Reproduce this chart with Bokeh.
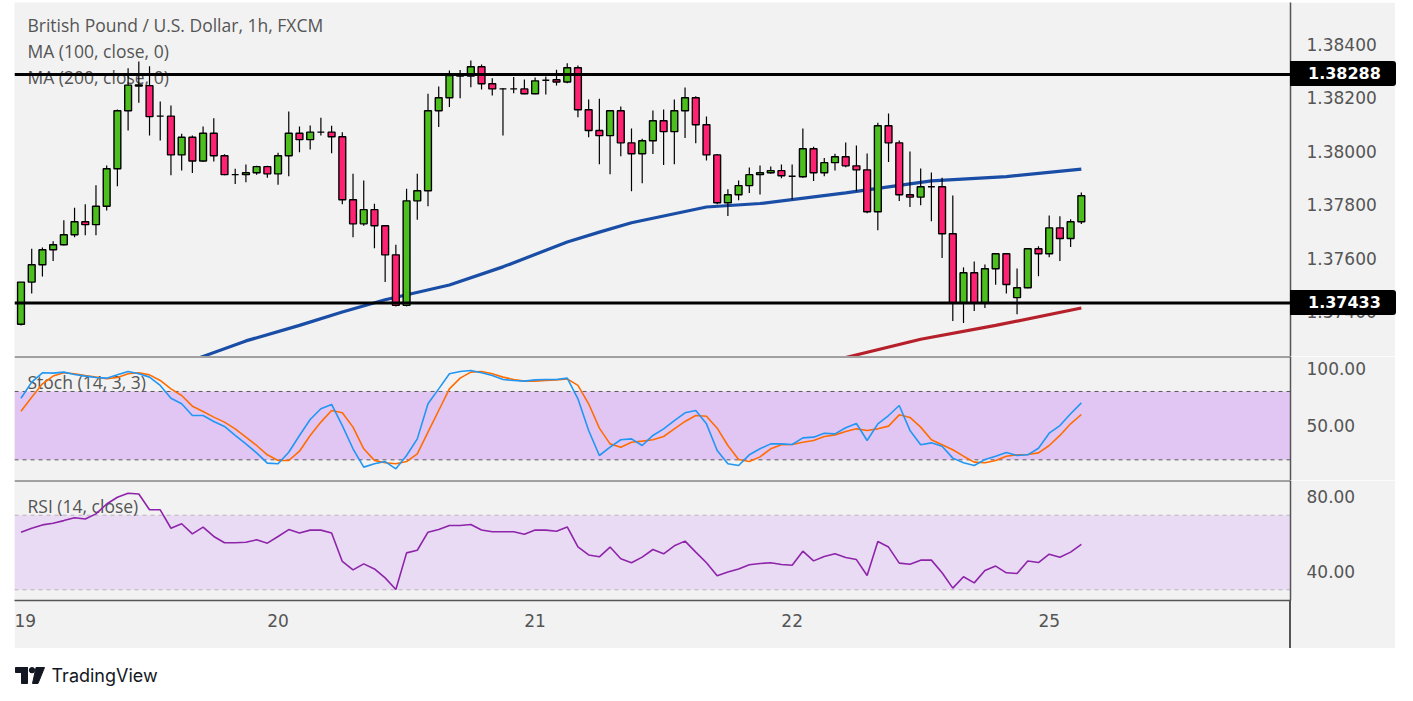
from bokeh.plotting import figure
from bokeh.layouts import column
from bokeh.models import (Range1d, FixedTicker, Span, BoxAnnotation, Label, Div,
                          ColumnDataSource, NumeralTickFormatter)
from bokeh.embed import file_html
from bokeh.resources import INLINE

# ---------------- data ----------------
hours = list(range(100))  # hourly bars starting 19th 00:00
opens = [1.37353, 1.37511, 1.37576, 1.37632, 1.37651, 1.37688, 1.37737, 1.37726, 1.37795, 1.37935,
         1.38152, 1.38245, 1.38246, 1.38132, 1.38132, 1.37987, 1.38053, 1.37964, 1.38068, 1.37984,
         1.37913, 1.37913, 1.37920, 1.37943, 1.37916, 1.37984, 1.38068, 1.38044, 1.38072, 1.38072,
         1.38055, 1.37819, 1.37729, 1.37782, 1.37722, 1.37613, 1.37424, 1.37815, 1.37853, 1.38152,
         1.38201, 1.38284, 1.38282, 1.38317, 1.38253, 1.38234, 1.38234, 1.38234, 1.38216, 1.38266,
         1.38268, 1.38260, 1.38313, 1.38156, 1.38078, 1.38059, 1.38152, 1.38032, 1.37991, 1.38040,
         1.38115, 1.38074, 1.38152, 1.38201, 1.38100, 1.37987, 1.37808, 1.37838, 1.37872, 1.37913,
         1.37920, 1.37928, 1.37907, 1.37905, 1.38010, 1.37920, 1.37958, 1.37980, 1.37946, 1.37931,
         1.37774, 1.38096, 1.38032, 1.37838, 1.37829, 1.37868, 1.37868, 1.37692, 1.37434, 1.37546,
         1.37434, 1.37561, 1.37617, 1.37453, 1.37490, 1.37636, 1.37617, 1.37714, 1.37674, 1.37737]
highs = [1.37511, 1.37636, 1.37640, 1.37664, 1.37742, 1.37789, 1.37802, 1.37873, 1.37947, 1.38157,
         1.38311, 1.38336, 1.38319, 1.38187, 1.38172, 1.38066, 1.38060, 1.38093, 1.38124, 1.37989,
         1.37935, 1.37951, 1.37946, 1.37946, 1.37995, 1.38149, 1.38093, 1.38097, 1.38126, 1.38096,
         1.38072, 1.37916, 1.37891, 1.37804, 1.37722, 1.37651, 1.37860, 1.37916, 1.38216, 1.38243,
         1.38303, 1.38305, 1.38340, 1.38325, 1.38274, 1.38236, 1.38278, 1.38269, 1.38277, 1.38280,
         1.38306, 1.38330, 1.38321, 1.38194, 1.38197, 1.38154, 1.38168, 1.38086, 1.38047, 1.38153,
         1.38157, 1.38194, 1.38239, 1.38206, 1.38131, 1.37990, 1.37858, 1.37891, 1.37940, 1.37947,
         1.37944, 1.37951, 1.37951, 1.38086, 1.38017, 1.37975, 1.37991, 1.38033, 1.38022, 1.37992,
         1.38107, 1.38142, 1.38041, 1.38000, 1.37936, 1.37921, 1.37901, 1.37835, 1.37566, 1.37588,
         1.37577, 1.37619, 1.37619, 1.37562, 1.37638, 1.37645, 1.37760, 1.37757, 1.37746, 1.37846]
lows = [1.37349, 1.37468, 1.37532, 1.37590, 1.37648, 1.37679, 1.37686, 1.37686, 1.37779, 1.37870,
        1.38078, 1.38182, 1.38060, 1.38041, 1.37911, 1.37929, 1.37919, 1.37960, 1.37962, 1.37911,
        1.37878, 1.37885, 1.37913, 1.37901, 1.37875, 1.37907, 1.37997, 1.38007, 1.38060, 1.37993,
        1.37802, 1.37679, 1.37722, 1.37638, 1.37511, 1.37420, 1.37420, 1.37744, 1.37795, 1.38091,
        1.38166, 1.38199, 1.38240, 1.38232, 1.38209, 1.38060, 1.38218, 1.38214, 1.38214, 1.38213,
        1.38247, 1.38255, 1.38128, 1.38053, 1.37952, 1.37915, 1.37982, 1.37851, 1.37881, 1.37990,
        1.37949, 1.37952, 1.38050, 1.38031, 1.37966, 1.37802, 1.37758, 1.37817, 1.37844, 1.37839,
        1.37916, 1.37900, 1.37820, 1.37901, 1.37889, 1.37907, 1.37929, 1.37941, 1.37851, 1.37769,
        1.37705, 1.37960, 1.37814, 1.37792, 1.37799, 1.37739, 1.37601, 1.37365, 1.37358, 1.37403,
        1.37414, 1.37501, 1.37468, 1.37391, 1.37488, 1.37533, 1.37604, 1.37590, 1.37642, 1.37728]
closes = [1.37511, 1.37576, 1.37632, 1.37651, 1.37688, 1.37737, 1.37726, 1.37795, 1.37935, 1.38152,
          1.38248, 1.38249, 1.38130, 1.38132, 1.37987, 1.38053, 1.37964, 1.38068, 1.37984, 1.37913,
          1.37913, 1.37920, 1.37943, 1.37916, 1.37984, 1.38068, 1.38044, 1.38072, 1.38072, 1.38055,
          1.37819, 1.37729, 1.37782, 1.37722, 1.37613, 1.37424, 1.37815, 1.37853, 1.38152, 1.38201,
          1.38284, 1.38282, 1.38317, 1.38253, 1.38234, 1.38234, 1.38234, 1.38216, 1.38264, 1.38266,
          1.38260, 1.38313, 1.38156, 1.38078, 1.38059, 1.38152, 1.38032, 1.37991, 1.38040, 1.38115,
          1.38074, 1.38152, 1.38201, 1.38100, 1.37987, 1.37808, 1.37838, 1.37872, 1.37913, 1.37920,
          1.37928, 1.37909, 1.37907, 1.38010, 1.37920, 1.37958, 1.37980, 1.37946, 1.37931, 1.37774,
          1.38096, 1.38032, 1.37838, 1.37829, 1.37868, 1.37868, 1.37692, 1.37434, 1.37546, 1.37434,
          1.37561, 1.37617, 1.37502, 1.37490, 1.37636, 1.37617, 1.37714, 1.37674, 1.37737, 1.37834]

ma100_idx = [15, 17, 21, 26, 30, 34, 40, 45, 51, 54, 57, 64, 69, 77, 85, 92, 99]
ma100_val = [1.37203, 1.37233, 1.37291, 1.37349, 1.37399, 1.37445, 1.37500, 1.37568, 1.37661,
             1.37698, 1.37733, 1.37792, 1.37805, 1.37845, 1.37890, 1.37906, 1.37934]
ma200_idx = [75, 77, 84, 91, 99]
ma200_val = [1.37212, 1.37229, 1.37297, 1.37349, 1.37414]

levels = [1.38288, 1.37433]
level_labels = ["1.38288", "1.37433"]
price_ticks = [1.374, 1.376, 1.378, 1.380, 1.382, 1.384]

stoch_k = [74.1, 88.2, 96.4, 96.1, 97.0, 94.9, 93.5, 92.3, 91.7, 94.6,
           97.6, 95.5, 92.6, 85.3, 74.1, 69.2, 58.9, 58.9, 53.7, 49.3,
           41.4, 34.0, 26.1, 17.1, 16.5, 26.7, 41.4, 55.4, 64.8, 68.6,
           50.1, 29.7, 13.6, 16.5, 18.5, 12.1, 23.8, 38.4, 69.2, 82.3,
           95.5, 97.6, 98.4, 96.4, 94.0, 90.5, 89.7, 89.1, 90.2, 90.5,
           90.5, 91.7, 73.6, 45.8, 23.8, 31.1, 37.6, 38.4, 32.6, 41.4,
           47.2, 54.5, 61.3, 63.3, 51.6, 28.2, 16.5, 15.0, 24.4, 29.7,
           34.0, 34.0, 33.5, 39.3, 39.9, 43.4, 42.8, 48.1, 51.9, 37.0,
           51.6, 58.9, 67.7, 45.8, 33.2, 34.9, 32.0, 21.5, 17.4, 15.0,
           20.3, 23.2, 26.4, 23.8, 24.4, 30.2, 43.4, 50.1, 60.4, 70.0]
stoch_d = [62.7, 75.0, 86.7, 93.5, 96.4, 95.5, 94.0, 92.6, 91.1, 92.3,
           95.5, 96.4, 94.6, 89.7, 82.3, 76.5, 67.1, 62.4, 57.5, 53.1,
           47.2, 39.9, 32.6, 24.4, 19.4, 19.4, 27.6, 41.4, 53.1, 63.3,
           61.3, 48.7, 29.7, 19.5, 17.4, 16.5, 18.5, 25.3, 44.3, 63.3,
           82.3, 91.7, 97.0, 97.6, 95.5, 92.6, 90.5, 89.1, 89.1, 89.7,
           90.2, 91.1, 85.3, 69.2, 47.8, 34.0, 31.1, 35.5, 36.4, 37.6,
           40.5, 47.2, 53.7, 58.9, 58.3, 47.8, 32.6, 20.3, 18.5, 22.6,
           29.7, 33.2, 33.5, 35.5, 37.0, 40.5, 41.9, 44.9, 47.2, 45.8,
           47.2, 49.6, 59.5, 57.2, 48.7, 37.6, 33.2, 28.8, 23.2, 18.0,
           17.4, 19.4, 23.2, 24.4, 24.7, 26.1, 32.6, 41.4, 51.6, 59.8]
stoch_band = [20, 80]
stoch_ticks = [50, 100]

rsi = [60.9, 63.0, 64.8, 65.7, 67.1, 68.6, 68.0, 70.7, 76.0, 79.6,
       81.8, 81.4, 72.9, 72.9, 63.0, 65.4, 60.0, 63.6, 58.6, 55.2,
       55.2, 55.5, 56.8, 55.0, 58.6, 62.3, 60.5, 62.0, 62.0, 60.5,
       45.2, 40.7, 43.9, 41.2, 36.4, 30.2, 49.8, 51.2, 60.9, 62.3,
       64.5, 64.5, 65.0, 62.1, 61.1, 61.1, 61.1, 59.8, 62.0, 62.0,
       61.4, 63.7, 53.0, 48.7, 47.7, 52.9, 46.6, 44.5, 47.5, 51.6,
       49.3, 53.6, 56.1, 50.2, 44.5, 37.5, 39.5, 41.1, 43.4, 44.1,
       44.5, 43.6, 43.2, 50.7, 45.5, 47.9, 49.3, 47.3, 46.2, 37.7,
       55.9, 52.9, 44.3, 43.7, 45.9, 45.9, 39.1, 30.9, 37.0, 33.7,
       40.4, 42.7, 39.1, 38.7, 45.4, 44.6, 49.1, 47.5, 50.2, 54.3]
rsi_band = [30, 70]
rsi_ticks = [40, 80]

day_ticks = [0, 24, 48, 72, 96]
day_labels = ["19", "20", "21", "22", "25"]

# ---------------- style ----------------
BG = "#F2F2F2"
GREEN = "#4CBE1E"
RED = "#FF2273"
AXIS_C = "#555555"
TXT_C = "#555555"
SEP_C = "#4D4D4D"
FRAME_W = 1276
RIGHT_W = 105
PRICE_H = 354

xr = Range1d(-0.607, 118.53)
price_range = Range1d(1.372326, 1.385572)


def base_fig(frame_h, yr, bottom_border=0, show_x=False):
    p = figure(frame_width=FRAME_W, frame_height=frame_h, x_range=xr, y_range=yr,
               toolbar_location=None, output_backend="svg",
               y_axis_location="right", x_axis_location="below" if show_x else None,
               min_border_left=0, min_border_right=RIGHT_W,
               min_border_top=0, min_border_bottom=bottom_border,
               background_fill_color=BG, border_fill_color=BG,
               outline_line_color=None)
    p.grid.visible = False
    ax = p.yaxis[0]
    ax.axis_line_color = AXIS_C
    ax.axis_line_width = 1.5
    ax.major_tick_out = 0
    ax.major_tick_in = 0
    ax.minor_tick_out = 0
    ax.minor_tick_in = 0
    ax.major_label_standoff = 16
    ax.major_label_text_color = TXT_C
    ax.major_label_text_font = "DejaVu Sans"
    ax.major_label_text_font_size = "17px"
    return p


def add_title(p, text, sy):
    p.add_layout(Label(x=13, y=sy, x_units="screen", y_units="screen", text=text,
                       text_align="left", text_baseline="middle", text_color=TXT_C,
                       text_font="Open Sans", text_font_size="17.5px", level="underlay"))


# ---------- price panel ----------
p1 = base_fig(PRICE_H, price_range)
p1.yaxis.ticker = FixedTicker(ticks=price_ticks)
p1.yaxis.formatter = NumeralTickFormatter(format="0.00000")

add_title(p1, "British Pound / U.S. Dollar, 1h, FXCM", 332)
add_title(p1, "MA (100, close, 0)", 306)
add_title(p1, "MA (200, close, 0)", 280)

src = ColumnDataSource(dict(
    x=hours, o=opens, h=highs, l=lows, c=closes,
    top=[max(o, c) for o, c in zip(opens, closes)],
    bottom=[min(o, c) for o, c in zip(opens, closes)],
    color=[GREEN if c >= o else RED for o, c in zip(opens, closes)],
))
p1.line(ma100_idx, ma100_val, line_color="#1A4DA6", line_width=3.2)
p1.line(ma200_idx, ma200_val, line_color="#B5202A", line_width=3.2)
p1.segment(x0="x", y0="l", x1="x", y1="h", source=src, line_color="black", line_width=1.2)
p1.vbar(x="x", width=0.64, top="top", bottom="bottom", source=src,
        fill_color="color", line_color="black", line_width=1.4)

for lv in levels:
    p1.add_layout(Span(location=lv, dimension="width", line_color="black", line_width=3))

# ---------- stochastic panel ----------
p2 = base_fig(124, Range1d(1.86, 110.7))
p2.yaxis.ticker = FixedTicker(ticks=stoch_ticks)
p2.yaxis.formatter = NumeralTickFormatter(format="0.00")
p2.add_layout(BoxAnnotation(bottom=stoch_band[0], top=stoch_band[1], fill_color="#E1C6F4",
                            fill_alpha=1.0, line_color=None, level="underlay"))
for b in stoch_band:
    p2.add_layout(Span(location=b, dimension="width", line_color="#5A5A5A", line_width=1,
                       line_dash="4 4", level="underlay"))
add_title(p2, "Stoch (14, 3, 3)", 99)
p2.line(hours, stoch_d, line_color="#FF6D00", line_width=1.6)
p2.line(hours, stoch_k, line_color="#2196F3", line_width=1.6)
p2.add_layout(Span(location=110.7, dimension="width", line_color=SEP_C, line_width=2))

# ---------- RSI panel ----------
p3 = base_fig(120, Range1d(24.26, 88.6), bottom_border=48, show_x=True)
p3.yaxis.ticker = FixedTicker(ticks=rsi_ticks)
p3.yaxis.formatter = NumeralTickFormatter(format="0.00")
p3.add_layout(BoxAnnotation(bottom=rsi_band[0], top=rsi_band[1], fill_color="#E9DBF3",
                            fill_alpha=1.0, line_color=None, level="underlay"))
for b in rsi_band:
    p3.add_layout(Span(location=b, dimension="width", line_color="#B8B0BC", line_width=1,
                       line_dash="4 4", level="underlay"))
add_title(p3, "RSI (14, close)", 95)
p3.line(hours, rsi, line_color="#8E24AA", line_width=1.6)
p3.add_layout(Span(location=88.6, dimension="width", line_color=SEP_C, line_width=2))

xa = p3.xaxis[0]
xa.ticker = FixedTicker(ticks=day_ticks)
xa.major_label_overrides = {t: s for t, s in zip(day_ticks, day_labels)}
xa.axis_line_color = AXIS_C
xa.axis_line_width = 1.5
xa.major_tick_out = 0
xa.major_tick_in = 0
xa.minor_tick_out = 0
xa.minor_tick_in = 0
xa.major_label_standoff = 13
xa.major_label_text_color = TXT_C
xa.major_label_text_font = "DejaVu Sans"
xa.major_label_text_font_size = "17px"

# ---------- logo strip ----------
logo = figure(frame_width=220, frame_height=50, x_range=Range1d(0, 220), y_range=Range1d(50, 0),
              toolbar_location=None, output_backend="svg", min_border=0,
              x_axis_location=None, y_axis_location=None,
              background_fill_color="white", border_fill_color="white",
              outline_line_color=None)
logo.grid.visible = False
LOGO_C = "#131722"
logo.quad(left=[1, 7], right=[13, 13], top=[19, 19], bottom=[24, 35], color=LOGO_C)
logo.circle(x=[17.5], y=[21.7], radius=2.7, color=LOGO_C)
logo.patch(x=[21.5, 30, 23.5, 18], y=[19, 19, 35, 35], color=LOGO_C)
logo.add_layout(Label(x=37, y=27, text="TradingView", text_align="left", text_baseline="middle",
                      text_color=LOGO_C, text_font="Inter", text_font_size="18px"))

# ---------- price tags on the right scale (HTML overlays) ----------
def level_px(lv):
    # vertical pixel of a price inside the price panel, from the panel's range
    return (price_range.end - lv) / (price_range.end - price_range.start) * PRICE_H


tags = []
for lv, lt in zip(levels, level_labels):
    tags.append(Div(text=lt, margin=0, styles={
        "position": "absolute", "left": f"{FRAME_W}px", "top": f"{level_px(lv) - 12.5:.1f}px",
        "background-color": "black", "color": "white",
        "font-family": "DejaVu Sans", "font-size": "16px", "font-weight": "bold",
        "line-height": "19px", "padding": "3px 15px 3px 18px", "border-radius": "0 3px 3px 0",
        "z-index": "10"}))
tags.append(Div(text="", margin=0, styles={
    "position": "absolute", "left": f"{FRAME_W - 0.75}px", "top": "598px",
    "width": "1.5px", "height": "48px", "background-color": AXIS_C, "z-index": "10"}))

layout = column(p1, p2, p3, logo, *tags, spacing=0,
                styles={"margin-left": "14px", "margin-top": "2px", "position": "relative"})

open("out.html", "w").write(file_html(layout, INLINE))
